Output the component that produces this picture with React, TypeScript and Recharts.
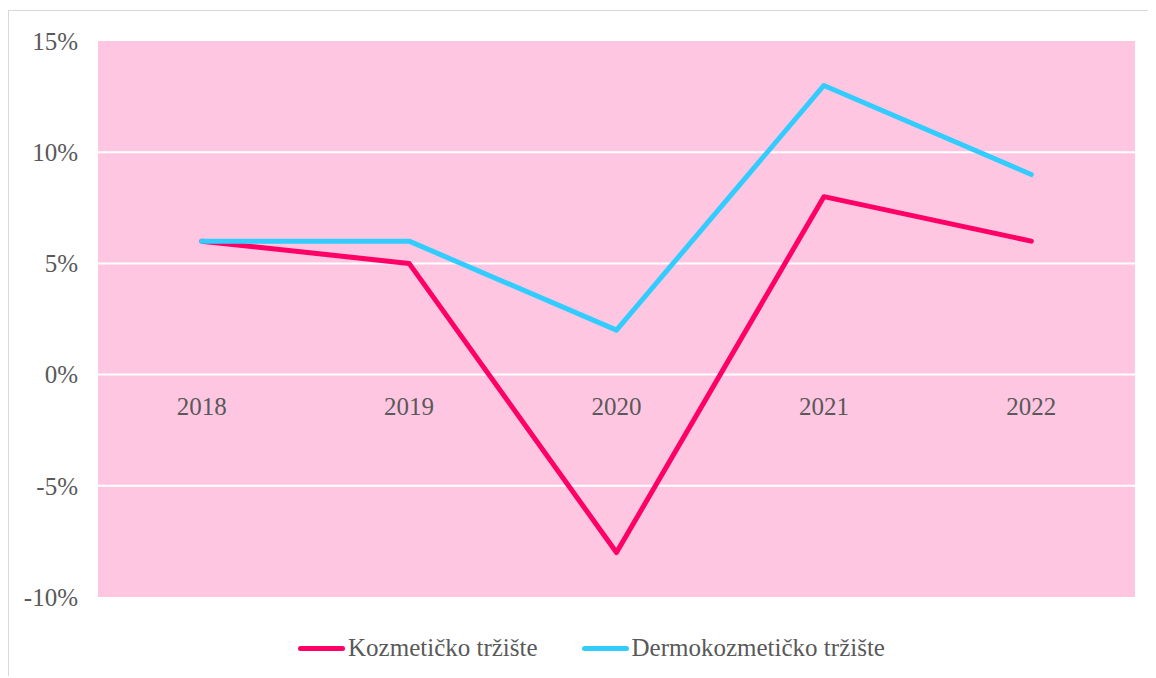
import React from 'react';
import {
  LineChart,
  Line,
  XAxis,
  YAxis,
  CartesianGrid,
  Legend
} from 'recharts';

const years = ['2018', '2019', '2020', '2021', '2022'];
const kozmeticko = [6, 5, -8, 8, 6];
const dermokozmeticko = [6, 6, 2, 13, 9];
const yTicks = [-10, -5, 0, 5, 10, 15];
const gridValues = [-5, 0, 5, 10];

const seriesInfo = [
  { key: 'kozmeticko', name: 'Kozmetičko tržište', color: '#FF0066' },
  { key: 'dermo', name: 'Dermokozmetičko tržište', color: '#33CCFF' }
];

const data = years.map((year, i) => ({
  year,
  kozmeticko: kozmeticko[i],
  dermo: dermokozmeticko[i]
}));

const FONT = '"Times New Roman", Times, "Liberation Serif", serif';
const TEXT = '#595959';
const Y_MIN = -10;
const Y_MAX = 15;
const PLOT_HEIGHT = 556;

// category labels sit just under the 0% line, not at the bottom of the plot
const zeroLift = (PLOT_HEIGHT * (0 - Y_MIN)) / (Y_MAX - Y_MIN);

const YearTick = ({ x, y, payload }: any) => (
  <text
    x={x}
    y={y - zeroLift}
    dy={32}
    textAnchor="middle"
    fill={TEXT}
    fontSize={25}
    fontFamily={FONT}
  >
    {payload.value}
  </text>
);

const LegendContent = () => (
  <div
    style={{
      display: 'flex',
      justifyContent: 'center',
      alignItems: 'center',
      height: 30,
      fontFamily: FONT,
      fontSize: 25,
      color: TEXT,
      paddingLeft: 10
    }}
  >
    {seriesInfo.map((s, i) => (
      <div
        key={s.key}
        style={{ display: 'flex', alignItems: 'center', marginLeft: i === 0 ? 0 : 44 }}
      >
        <span
          style={{
            display: 'inline-block',
            width: 47,
            height: 5,
            borderRadius: 3,
            background: s.color,
            marginRight: 3
          }}
        />
        <span style={{ fontFamily: FONT }}>{s.name}</span>
      </div>
    ))}
  </div>
);

export default function App() {
  return (
    <div style={{ width: 1148, height: 668, overflow: 'hidden', fontFamily: FONT }}>
      <div
        style={{
          marginTop: 2,
          width: 1180,
          height: 700,
          border: '1px solid #d9d9d9',
          boxSizing: 'border-box',
          background: '#fff'
        }}
      >
        <LineChart
          width={1150}
          height={660}
          data={data}
          margin={{ top: 30, right: 24, bottom: 8, left: 29 }}
        >
          <CartesianGrid
            vertical={false}
            fill="#FFC6E2"
            fillOpacity={1}
            stroke="#ffffff"
            strokeWidth={2}
            horizontalValues={gridValues}
          />
          <XAxis
            dataKey="year"
            axisLine={false}
            tickLine={false}
            height={36}
            padding={{ left: 103.7, right: 103.7 }}
            tick={<YearTick />}
          />
          <YAxis
            domain={[Y_MIN, Y_MAX]}
            ticks={yTicks}
            allowDataOverflow
            axisLine={false}
            tickLine={false}
            width={60}
            tickMargin={14}
            tickFormatter={(v: number) => `${v}%`}
            tick={{ fill: TEXT, fontSize: 25, fontFamily: FONT }}
          />
          <Legend verticalAlign="bottom" height={30} content={<LegendContent />} />
          {seriesInfo.map((s) => (
            <Line
              key={s.key}
              type="linear"
              dataKey={s.key}
              name={s.name}
              stroke={s.color}
              strokeWidth={5}
              strokeLinecap="round"
              strokeLinejoin="round"
              dot={false}
              activeDot={false}
              isAnimationActive={false}
            />
          ))}
        </LineChart>
      </div>
    </div>
  );
}
